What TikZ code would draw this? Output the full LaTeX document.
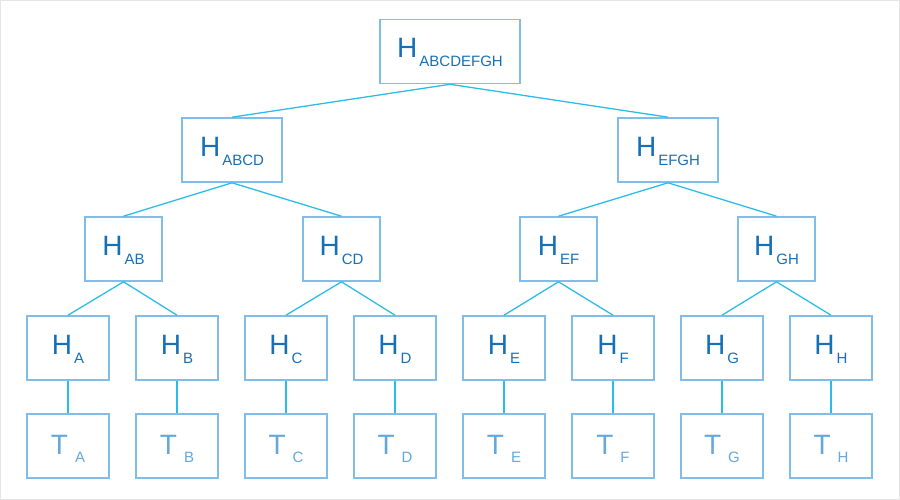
\documentclass[tikz,border=0pt]{standalone}
\usepackage{fontspec}
\setmainfont{Liberation Sans}
\definecolor{boxc}{HTML}{82BDE9}
\definecolor{edgec}{HTML}{2BBDE6}
\definecolor{htxt}{HTML}{1670B8}
\definecolor{ttxt}{HTML}{64A8DC}
\newcommand{\hlab}[1]{\raisebox{-6pt}[0pt][0pt]{\fontsize{28}{28}\selectfont H\hspace{2pt}\raisebox{-9pt}{\fontsize{15}{15}\selectfont #1}}}
\newcommand{\tlab}[1]{\raisebox{-8pt}[0pt][0pt]{\fontsize{28}{28}\selectfont T\hspace{7pt}\raisebox{-8pt}{\fontsize{15}{15}\selectfont #1}}}
\begin{document}
\begin{tikzpicture}[x=1pt,y=-1pt,
  hbox/.style={draw=boxc,line width=1.6pt,fill=white,inner sep=0pt,minimum height=64pt,text=htxt},
  tbox/.style={hbox,text=ttxt},
  lvone/.style={minimum width=140pt},
  lvtwo/.style={minimum width=100pt},
  lvthree/.style={minimum width=77pt},
  lvfour/.style={minimum width=82pt},
  edge/.style={draw=edgec,line width=1.3pt}]
\draw[draw=black!10,line width=1pt] (0.5,0.5) rectangle (899.5,499.5);
\useasboundingbox (0,0) rectangle (900,500);
% nodes
\node[hbox,lvone] (r) at (450,51.5) {\hlab{ABCDEFGH}};
\node[hbox,lvtwo] (abcd) at (232,150) {\hlab{ABCD}};
\node[hbox,lvtwo] (efgh) at (668,150) {\hlab{EFGH}};
\node[hbox,lvthree] (ab) at (123.5,249) {\hlab{AB}};
\node[hbox,lvthree] (cd) at (341.5,249) {\hlab{CD}};
\node[hbox,lvthree] (ef) at (558.5,249) {\hlab{EF}};
\node[hbox,lvthree] (gh) at (776.5,249) {\hlab{GH}};
\foreach \n/\x in {A/68,B/177,C/286,D/395,E/504,F/613,G/722,H/831}{
  \node[hbox,lvfour] (h\n) at (\x,348) {\hlab{\n}};
  \node[tbox,lvfour] (t\n) at (\x,446) {\tlab{\n}};
}
% edges
\draw[edge] (r.south) -- (abcd.north);
\draw[edge] (r.south) -- (efgh.north);
\draw[edge] (abcd.south) -- (ab.north);
\draw[edge] (abcd.south) -- (cd.north);
\draw[edge] (efgh.south) -- (ef.north);
\draw[edge] (efgh.south) -- (gh.north);
\draw[edge] (ab.south) -- (hA.north);
\draw[edge] (ab.south) -- (hB.north);
\draw[edge] (cd.south) -- (hC.north);
\draw[edge] (cd.south) -- (hD.north);
\draw[edge] (ef.south) -- (hE.north);
\draw[edge] (ef.south) -- (hF.north);
\draw[edge] (gh.south) -- (hG.north);
\draw[edge] (gh.south) -- (hH.north);
\foreach \n in {A,B,C,D,E,F,G,H}{
  \draw[edge] (h\n.south) -- (t\n.north);
}
\end{tikzpicture}
\end{document}
